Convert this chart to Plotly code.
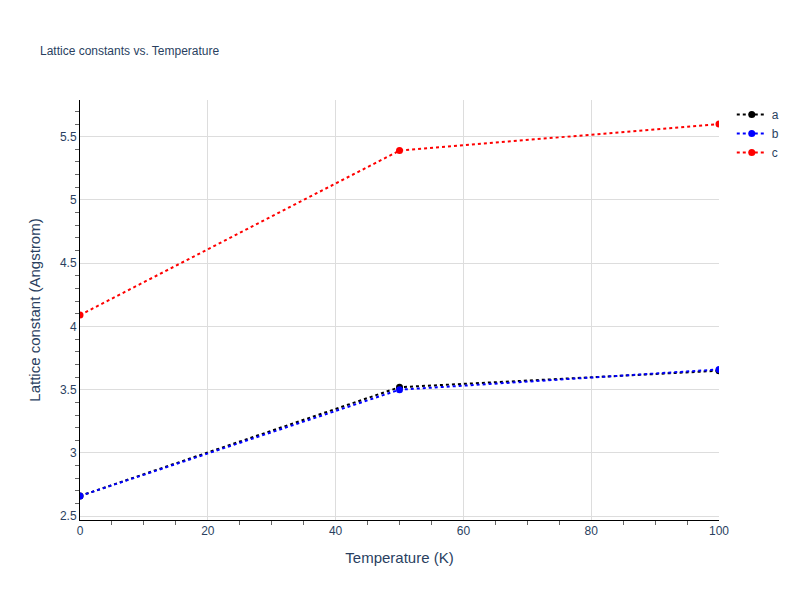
import plotly.graph_objects as go

temperature = [0, 50, 100]
a_vals = [2.66, 3.52, 3.65]
b_vals = [2.66, 3.50, 3.66]
c_vals = [4.09, 5.39, 5.60]

fig = go.Figure()
for name, vals, color in [("a", a_vals, "black"), ("b", b_vals, "blue"), ("c", c_vals, "red")]:
    fig.add_trace(go.Scatter(
        x=temperature, y=vals, name=name, mode="lines+markers",
        line=dict(color=color, width=2, dash="dot"),
        marker=dict(color=color, size=7),
    ))

# page has an 8px body margin, so margins are shifted to line up with the window
fig.update_layout(
    template="plotly_white",
    width=800, height=600,
    font=dict(family="Arial, Liberation Sans, sans-serif"),
    title=dict(text="Lattice constants vs. Temperature", x=0.04, y=0.935, font=dict(size=12)),
    margin=dict(l=72, r=89, t=92, b=88),
    legend=dict(x=1.02, y=1, font=dict(size=12)),
)
axis_common = dict(
    showline=True, linecolor="black", linewidth=1,
    gridcolor="#dddddd", zeroline=False,
    minor=dict(ticks="outside", ticklen=4, tickcolor="#666", showgrid=False),
    tickfont=dict(size=12),
    title_font=dict(size=15),
)
fig.update_xaxes(title_text="Temperature (K)", range=[0, 100], **axis_common)
fig.update_yaxes(title_text="Lattice constant (Angstrom)", range=[2.47, 5.79], **axis_common)

fig.write_html("out.html")
